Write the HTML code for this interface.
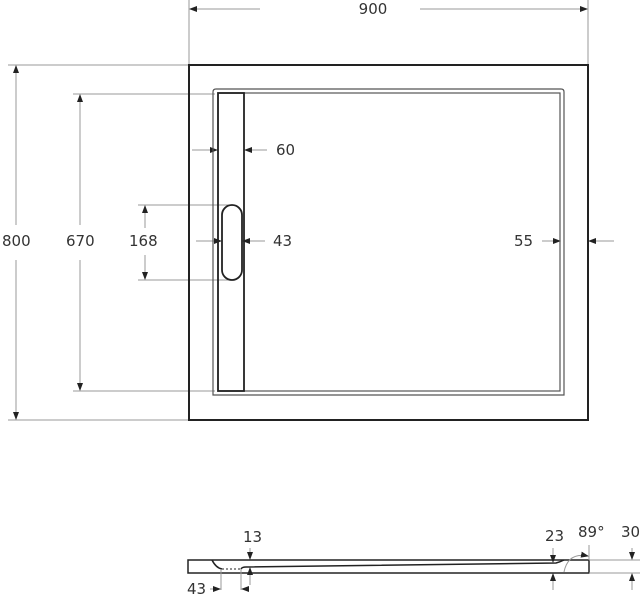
<!DOCTYPE html>
<html><head><style>
body{margin:0;background:#fff;}
svg{display:block;font-family:"DejaVu Sans","Liberation Sans",sans-serif;}
text{font-size:15px;fill:#333;}
</style></head><body>
<svg width="642" height="597" viewBox="0 0 642 597" xmlns="http://www.w3.org/2000/svg">
<defs>
<marker id="a" markerWidth="8" markerHeight="6" refX="7" refY="3" orient="auto" markerUnits="userSpaceOnUse"><path d="M0,0 L8,3 L0,6 z" fill="#222"/></marker>
</defs>
<g stroke="#999" stroke-width="1" fill="none">
<line x1="189" y1="0" x2="189" y2="65"/><line x1="588" y1="0" x2="588" y2="65"/>
<line x1="260" y1="9" x2="190" y2="9" marker-end="url(#a)"/>
<line x1="420" y1="9" x2="587" y2="9" marker-end="url(#a)"/>
<line x1="8" y1="65" x2="189" y2="65"/><line x1="8" y1="420" x2="189" y2="420"/>
<line x1="16" y1="225" x2="16" y2="66" marker-end="url(#a)"/>
<line x1="16" y1="260" x2="16" y2="419" marker-end="url(#a)"/>
<line x1="73" y1="94" x2="215" y2="94"/><line x1="73" y1="391" x2="215" y2="391"/>
<line x1="80" y1="225" x2="80" y2="95" marker-end="url(#a)"/>
<line x1="80" y1="260" x2="80" y2="390" marker-end="url(#a)"/>
<line x1="138" y1="205" x2="232" y2="205"/><line x1="138" y1="280" x2="232" y2="280"/>
<line x1="145" y1="228" x2="145" y2="206" marker-end="url(#a)"/>
<line x1="145" y1="255" x2="145" y2="279" marker-end="url(#a)"/>
<line x1="192" y1="150" x2="217" y2="150" marker-end="url(#a)"/>
<line x1="267" y1="150" x2="245" y2="150" marker-end="url(#a)"/>
<line x1="196" y1="241" x2="221" y2="241" marker-end="url(#a)"/>
<line x1="265" y1="241" x2="243" y2="241" marker-end="url(#a)"/>
<line x1="542" y1="241" x2="560" y2="241" marker-end="url(#a)"/>
<line x1="614" y1="241" x2="589" y2="241" marker-end="url(#a)"/>
</g>
<g fill="none" stroke="#222">
<rect x="189" y="65" width="399" height="355" stroke-width="2"/>
<path d="M213,395 V92 Q213,89 216,89 H561 Q564,89 564,92 V395 Z" stroke="#555" stroke-width="1.2"/>
<rect x="218" y="93" width="342" height="298" stroke="#555" stroke-width="1.2"/>
<rect x="218" y="93" width="26" height="298" stroke-width="1.8"/>
<rect x="222" y="205" width="20" height="75" rx="10" stroke-width="1.8"/>
</g>
<text x="373" y="14" text-anchor="middle">900</text>
<text x="2" y="246">800</text>
<text x="66" y="246">670</text>
<text x="129" y="246">168</text>
<text x="276" y="155">60</text>
<text x="273" y="246">43</text>
<text x="514" y="246">55</text>
<g fill="none" stroke="#222" stroke-width="1.5">
<rect x="188" y="560" width="401" height="13"/>
<path d="M212,560 Q216,568 222,569"/>
<path d="M241,569 Q242,567 246,567 L556,563 Q560,562 564,560"/>
</g>
<line x1="222" y1="569" x2="241" y2="569" stroke="#222" stroke-dasharray="2,2"/>
<g stroke="#999" fill="none">
<line x1="221" y1="569" x2="221" y2="590"/><line x1="241" y1="569" x2="241" y2="590"/>
<line x1="210" y1="589" x2="220" y2="589" marker-end="url(#a)"/>
<line x1="248" y1="589" x2="242" y2="589" marker-end="url(#a)"/>
<line x1="250" y1="548" x2="250" y2="559" marker-end="url(#a)"/>
<line x1="250" y1="585" x2="250" y2="568" marker-end="url(#a)"/>
<line x1="553" y1="548" x2="553" y2="562" marker-end="url(#a)"/>
<line x1="553" y1="590" x2="553" y2="574" marker-end="url(#a)"/>
<line x1="589" y1="545" x2="589" y2="560"/>
<line x1="589" y1="560" x2="640" y2="560"/><line x1="589" y1="573" x2="640" y2="573"/>
<line x1="632" y1="548" x2="632" y2="559" marker-end="url(#a)"/>
<line x1="632" y1="590" x2="632" y2="574" marker-end="url(#a)"/>
<path d="M564,572 Q568,552 588,556" marker-end="url(#a)"/>
</g>
<text x="243" y="542">13</text>
<text x="545" y="541">23</text>
<text x="578" y="537">89°</text>
<text x="621" y="537">30</text>
<text x="187" y="594">43</text>
</svg>
</body></html>
